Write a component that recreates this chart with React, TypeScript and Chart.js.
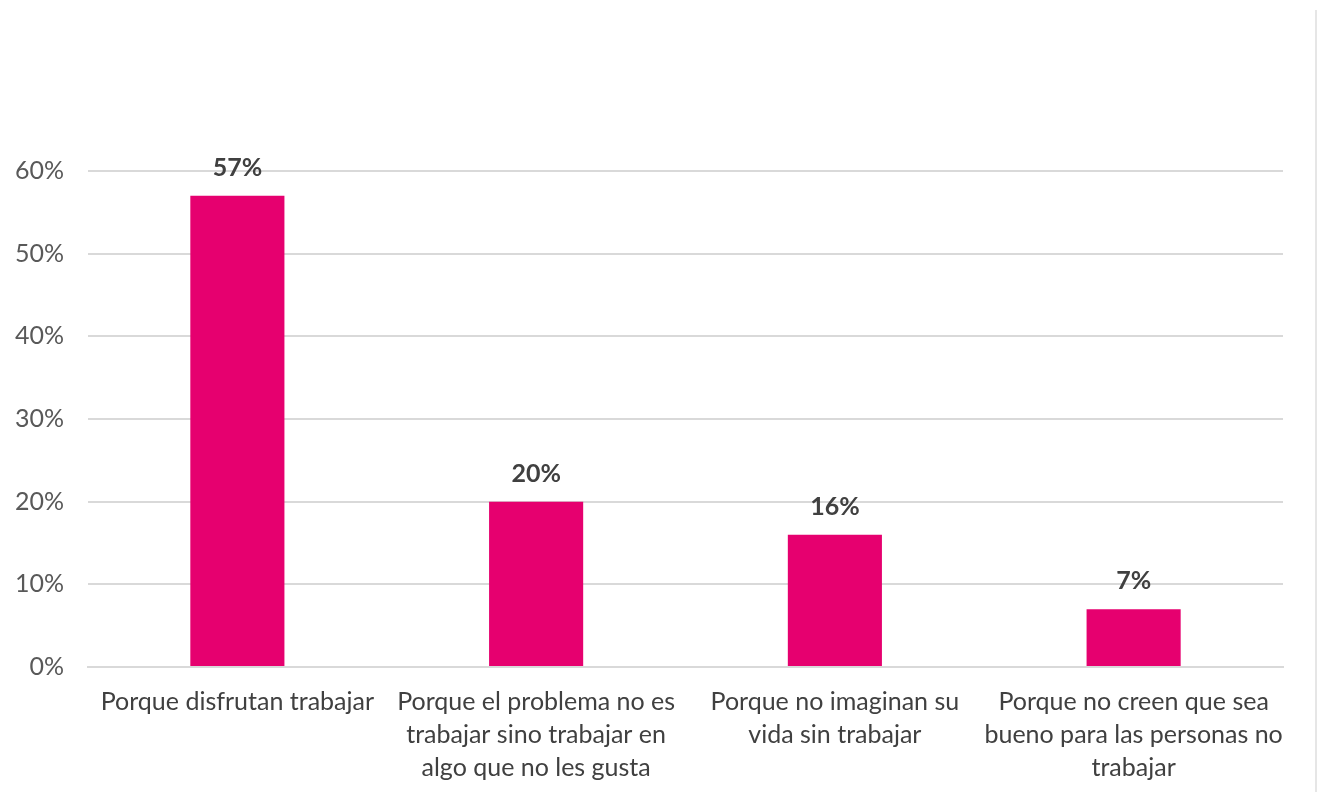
import React, { useEffect, useRef } from "react";
import { Chart, registerables } from "chart.js";

Chart.register(...registerables);

const categories: string[][] = [
  ["Porque disfrutan trabajar"],
  ["Porque el problema no es", "trabajar sino trabajar en", "algo que no les gusta"],
  ["Porque no imaginan su", "vida sin trabajar"],
  ["Porque no creen que sea", "bueno para las personas no", "trabajar"],
];
const values: number[] = [57, 20, 16, 7];
const yTicks: number[] = [0, 10, 20, 30, 40, 50, 60];

const FONT = "Lato, 'Open Sans', sans-serif";

export default function App() {
  const ref = useRef<HTMLCanvasElement | null>(null);
  useEffect(() => {
    if (!ref.current) return;
    const labelPlugin = {
      id: "valueLabels",
      afterDatasetsDraw(chart: any) {
        const ctx = chart.ctx;
        const meta = chart.getDatasetMeta(0);
        ctx.save();
        ctx.font = `bold 25px ${FONT}`;
        ctx.fillStyle = "#404040";
        ctx.textAlign = "center";
        ctx.textBaseline = "middle";
        meta.data.forEach((bar: any, i: number) => {
          ctx.fillText(`${values[i]}%`, bar.x, bar.y - 28);
        });
        ctx.restore();
      },
    };
    const chart = new Chart(ref.current, {
      type: "bar",
      data: {
        labels: categories,
        datasets: [
          {
            data: values,
            backgroundColor: "#E6006F",
            categoryPercentage: 1,
            barPercentage: 0.315,
          },
        ],
      },
      options: {
        animation: false,
        responsive: false,
        maintainAspectRatio: false,
        layout: { padding: { top: 171, right: 34, left: 0, bottom: 0 } },
        plugins: { legend: { display: false }, tooltip: { enabled: false } },
        scales: {
          x: {
            grid: { display: false },
            border: { display: true, color: "#d9d9d9", width: 2 },
            ticks: {
              color: "#404040",
              font: { family: FONT, size: 25, lineHeight: 1.32 },
              padding: 10,
              maxRotation: 0,
              autoSkip: false,
            },
            afterFit: (s: any) => {
              s.height = 125;
            },
          },
          y: {
            min: 0,
            max: 60,
            afterBuildTicks: (s: any) => {
              s.ticks = yTicks.map((v) => ({ value: v }));
            },
            grid: { color: "#d9d9d9", lineWidth: 2, drawTicks: false },
            border: { display: false },
            ticks: {
              color: "#595959",
              font: { family: FONT, size: 25 },
              padding: 24,
              callback: (v: any) => `${v}%`,
            },
            afterFit: (s: any) => {
              s.width = 88;
            },
          },
        },
      },
      plugins: [labelPlugin],
    });
    return () => chart.destroy();
  }, []);
  return (
    <div style={{ position: "fixed", left: 0, top: 0, width: 1317, height: 792, background: "#fff" }}>
      <canvas ref={ref} width={1317} height={792} style={{ width: 1317, height: 792 }} />
      <div style={{ position: "absolute", left: 1315, top: 10, width: 2, height: 782, background: "#e6e6e6" }} />
    </div>
  );
}
